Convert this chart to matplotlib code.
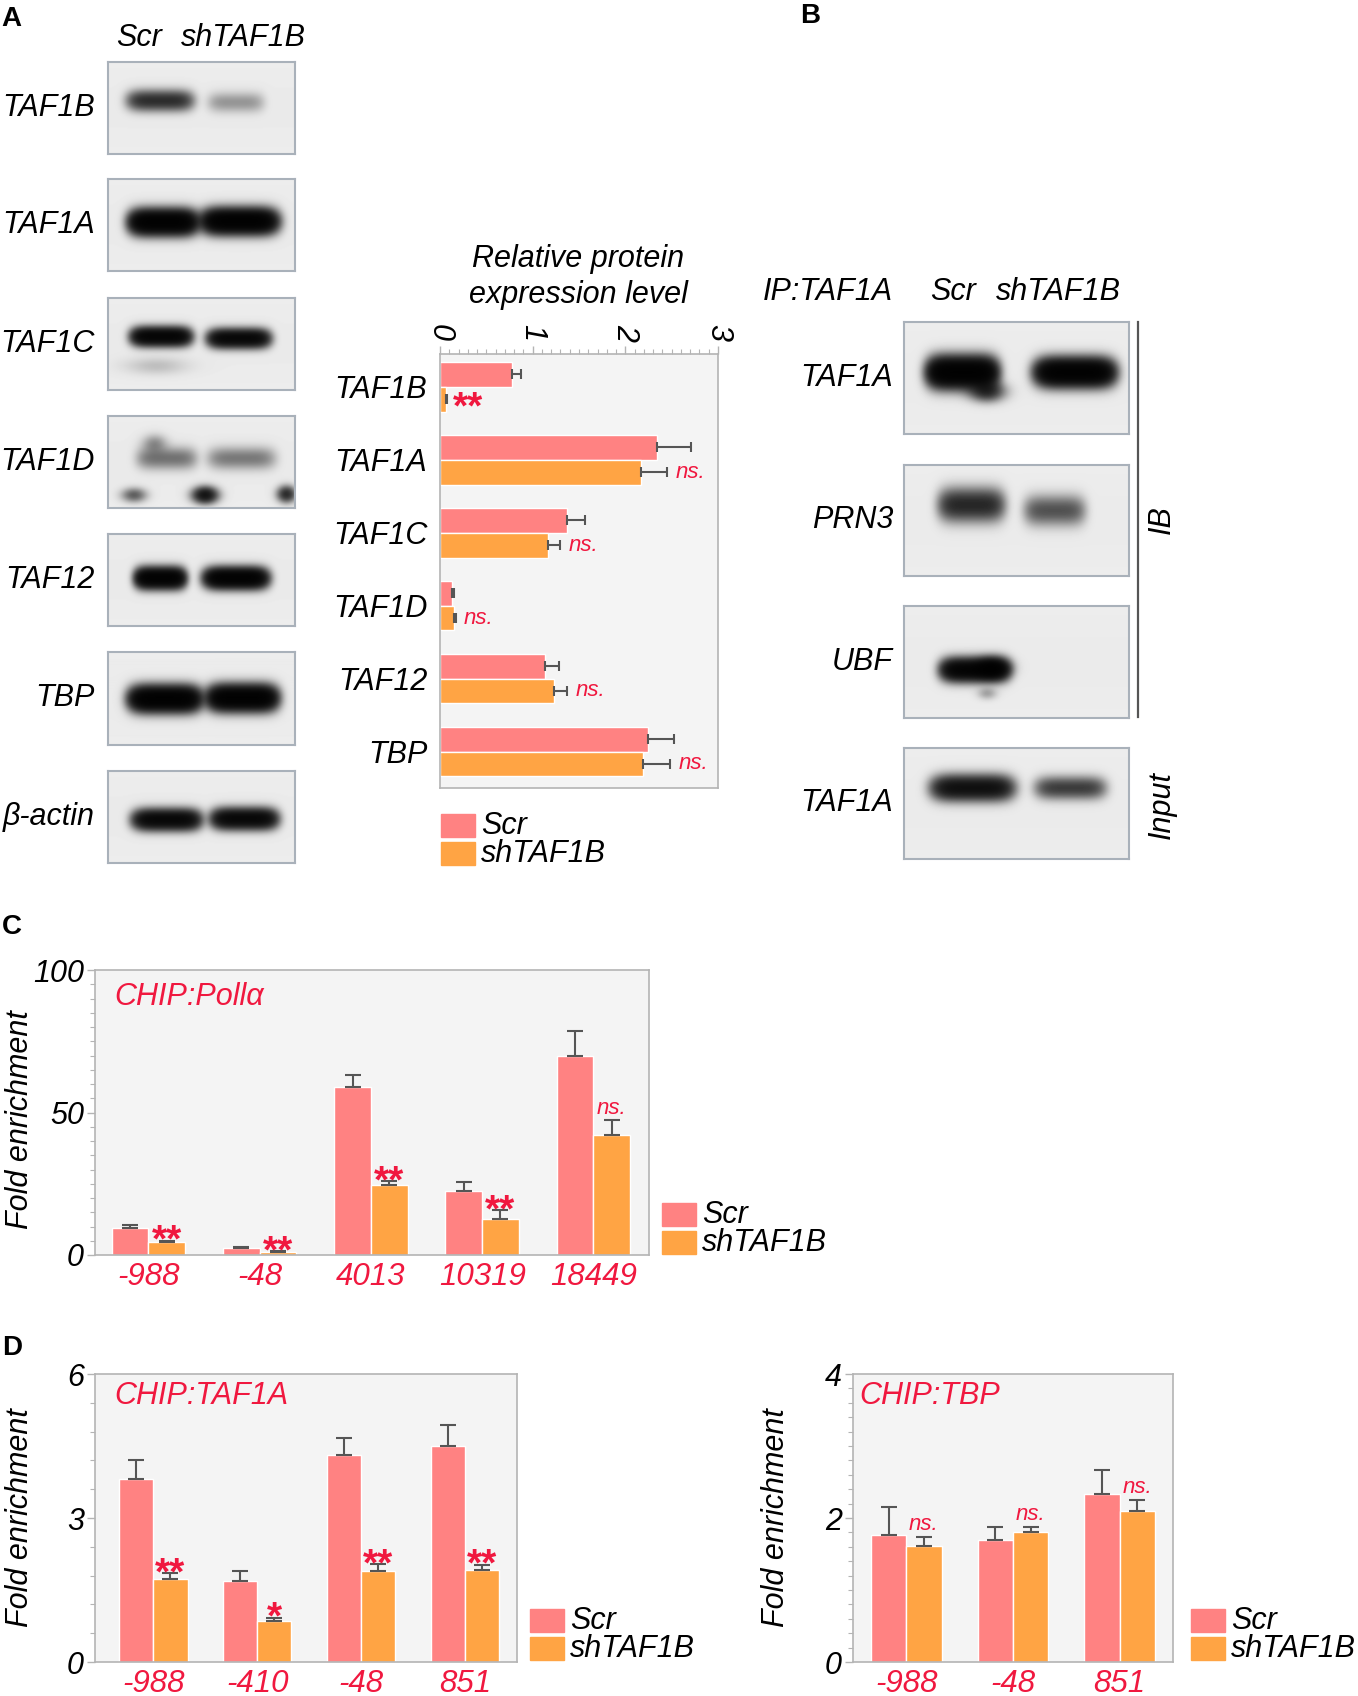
import numpy as np
import matplotlib
matplotlib.use('Agg')
import matplotlib.pyplot as plt
from matplotlib.patches import Rectangle
from matplotlib.lines import Line2D
from matplotlib.ticker import MultipleLocator

plt.rcParams['font.family'] = ['Liberation Sans', 'DejaVu Sans']

W, H = 1358, 1696
SERIES = ['Scr', 'shTAF1B']

# ---------------- data ----------------
# Panel A western blot (relative band strength per lane)
BLOT_A_PROTEINS = ['TAF1B', 'TAF1A', 'TAF1C', 'TAF1D', 'TAF12', 'TBP', 'β-actin']
BLOT_A_SCR = [0.55, 1.5, 1.2, 0.24, 1.4, 1.5, 1.1]
BLOT_A_SH = [0.15, 1.5, 1.1, 0.22, 1.4, 1.5, 1.1]

# Panel A quantification
QUANT_PROTEINS = ['TAF1B', 'TAF1A', 'TAF1C', 'TAF1D', 'TAF12', 'TBP']
QUANT_SCR = [0.78, 2.34, 1.37, 0.13, 1.13, 2.24]
QUANT_SCR_ERR = [0.09, 0.37, 0.20, 0.02, 0.15, 0.28]
QUANT_SH = [0.07, 2.17, 1.17, 0.155, 1.23, 2.19]
QUANT_SH_ERR = [0.01, 0.28, 0.13, 0.015, 0.14, 0.29]
QUANT_SIG = ['**', 'ns.', 'ns.', 'ns.', 'ns.', 'ns.']

# Panel B co-IP blot
BLOT_B_PROTEINS = ['TAF1A', 'PRN3', 'UBF', 'TAF1A']
BLOT_B_SCR = [1.6, 0.60, 1.3, 0.9]
BLOT_B_SH = [1.5, 0.35, 0.0, 0.45]

# Panel C  ChIP: Pol I alpha
C_SITES = ['-988', '-48', '4013', '10319', '18449']
C_SCR = [9.5, 2.5, 58.8, 22.5, 70.0]
C_SCR_ERR = [0.9, 0.3, 4.4, 3.2, 8.7]
C_SH = [4.7, 1.0, 24.5, 12.5, 42.0]
C_SH_ERR = [0.3, 0.3, 1.5, 3.2, 5.2]
C_SIG = ['**', '**', '**', '**', 'ns.']

# Panel D left  ChIP: TAF1A
DL_SITES = ['-988', '-410', '-48', '851']
DL_SCR = [3.81, 1.69, 4.31, 4.49]
DL_SCR_ERR = [0.39, 0.20, 0.35, 0.44]
DL_SH = [1.72, 0.85, 1.89, 1.92]
DL_SH_ERR = [0.13, 0.07, 0.15, 0.11]
DL_SIG = ['**', '*', '**', '**']

# Panel D right  ChIP: TBP
DR_SITES = ['-988', '-48', '851']
DR_SCR = [1.77, 1.69, 2.33]
DR_SCR_ERR = [0.38, 0.185, 0.34]
DR_SH = [1.61, 1.81, 2.10]
DR_SH_ERR = [0.13, 0.06, 0.15]
DR_SIG = ['ns.', 'ns.', 'ns.']

# ---------------- style ----------------
PINK = '#FF8282'
ORANGE = '#FFA444'
BG = '#F4F4F4'
SPINE = '#B4B4B4'
ECOL = '#555555'
RED = '#F0183F'
BLOT_EDGE = '#A9B1BA'
FS = 22

fig = plt.figure(figsize=(W / 100, H / 100), dpi=100)


def add_ax(x0, y0, x1, y1):
    return fig.add_axes([x0 / W, 1 - y1 / H, (x1 - x0) / W, (y1 - y0) / H])


def ftext(x, y, s, **kw):
    kw.setdefault('fontsize', FS)
    fig.text(x / W, 1 - y / H, s, **kw)


def draw_blot(box, bands):
    x0, y0, x1, y1 = box
    ax = add_ax(x0, y0, x1, y1)
    w = int(x1 - x0)
    h = int(y1 - y0)
    yy, xx = np.mgrid[0:h, 0:w]
    xx = (xx + 0.5) / w
    yy = (yy + 0.5) / h
    dens = np.zeros((h, w))
    for band in bands:
        bx0, bx1, yc, sy, inten = band[:5]
        pw = band[5] if len(band) > 5 else 5
        if inten <= 0:
            continue
        xc = (bx0 + bx1) / 2
        wx = (bx1 - bx0) / 2
        dens += inten * np.exp(-np.abs((xx - xc) / wx) ** pw) * np.exp(-((yy - yc) / sy) ** 2)
    bg = 0.935 - 0.015 * np.exp(-((yy - 0.5) / 0.6) ** 2)
    img = bg * np.exp(-3.0 * dens)
    ax.imshow(img, cmap='gray', vmin=0, vmax=1, aspect='auto',
              interpolation='bilinear', extent=(0, 1, 1, 0))
    ax.set_xticks([])
    ax.set_yticks([])
    for sp in ax.spines.values():
        sp.set_color(BLOT_EDGE)
        sp.set_linewidth(1.5)
    return ax


def legend_at(x, y_top):
    for i, (lab, col) in enumerate(zip(SERIES, [PINK, ORANGE])):
        ry = y_top + i * 28
        fig.patches.append(Rectangle((x / W, 1 - (ry + 23) / H), 34 / W, 23 / H,
                                     transform=fig.transFigure, color=col))
        ftext(x + 40, ry + 12, lab, style='italic', va='center', ha='left')


# ---------------- panel letters ----------------
for lt, (px, py) in zip('ABCD', [(1, 19), (800, 16), (2, 927), (2, 1348)]):
    ftext(px, py, lt, fontsize=20, fontweight='bold', ha='left', va='center')

# ---------------- Panel A blots ----------------
A_ROWS = [(62, 154), (179, 271), (298, 390), (416, 508), (534, 626), (652, 745), (771, 863)]
A_GEOM = [
    [(0.11, 0.45, 0.42, 0.10), (0.54, 0.83, 0.44, 0.10)],
    [(0.12, 0.47, 0.47, 0.12), (0.51, 0.90, 0.46, 0.12)],
    [(0.13, 0.44, 0.42, 0.09), (0.54, 0.86, 0.44, 0.09)],
    [(0.16, 0.47, 0.46, 0.11), (0.54, 0.89, 0.46, 0.11)],
    [(0.15, 0.41, 0.48, 0.10), (0.52, 0.85, 0.48, 0.10)],
    [(0.12, 0.49, 0.51, 0.12), (0.54, 0.90, 0.50, 0.12)],
    [(0.14, 0.49, 0.53, 0.10), (0.56, 0.90, 0.52, 0.10)],
]
A_EXTRA = {
    2: [(0.10, 0.42, 0.74, 0.09, 0.07, 2)],
    3: [(0.19, 0.31, 0.30, 0.09, 0.16, 2), (0.08, 0.20, 0.86, 0.07, 0.30, 2),
        (0.46, 0.58, 0.86, 0.08, 0.8, 2), (0.91, 1.0, 0.85, 0.08, 0.55, 2)],
}
for i, (name, (ry0, ry1)) in enumerate(zip(BLOT_A_PROTEINS, A_ROWS)):
    g = A_GEOM[i]
    bands = [g[0] + (BLOT_A_SCR[i],), g[1] + (BLOT_A_SH[i],)] + A_EXTRA.get(i, [])
    draw_blot((108, ry0, 295, ry1), bands)
    ftext(95, (ry0 + ry1) / 2, name, style='italic', ha='right', va='center')
ftext(139, 38, SERIES[0], style='italic', ha='center', va='center')
ftext(243, 38, SERIES[1], style='italic', ha='center', va='center')

# ---------------- Panel A quantification ----------------
axq = add_ax(440, 354, 718, 788)
axq.set_facecolor(BG)
yq = np.arange(len(QUANT_PROTEINS))
hb = 0.34
nq = len(yq)
axq.barh(yq - hb / 2, QUANT_SCR, hb, color=PINK, edgecolor='white', linewidth=1, zorder=2)
axq.barh(yq + hb / 2, QUANT_SH, hb, color=ORANGE, edgecolor='white', linewidth=1, zorder=2)
axq.errorbar(QUANT_SCR, yq - hb / 2, xerr=[np.zeros(nq), QUANT_SCR_ERR], fmt='none',
             ecolor=ECOL, elinewidth=1.5, capsize=3.5, capthick=1.5, zorder=3)
axq.errorbar(QUANT_SH, yq + hb / 2, xerr=[np.zeros(nq), QUANT_SH_ERR], fmt='none',
             ecolor=ECOL, elinewidth=1.5, capsize=3.5, capthick=1.5, zorder=3)
for yi, v, e, s in zip(yq + hb / 2, QUANT_SH, QUANT_SH_ERR, QUANT_SIG):
    if s.startswith('*'):
        axq.annotate(s, (v + e, yi), xytext=(4, -7), textcoords='offset points',
                     ha='left', va='center', color=RED, fontsize=28, fontweight='bold')
    else:
        axq.annotate(s, (v + e, yi), xytext=(6, 0), textcoords='offset points',
                     ha='left', va='center', color=RED, fontsize=16, style='italic')
axq.set_xlim(0, 3)
axq.set_ylim(len(yq) - 0.5, -0.45)
axq.xaxis.tick_top()
axq.set_xticks([0, 1, 2, 3])
axq.xaxis.set_minor_locator(MultipleLocator(0.1))
axq.tick_params(axis='x', which='major', length=6, width=1, color=SPINE, direction='out',
                labelsize=FS, pad=3, top=True, bottom=False, labeltop=True, labelbottom=False)
axq.tick_params(axis='x', which='minor', length=3.5, width=0.8, color=SPINE, direction='out',
                top=True, bottom=False)
for lab in axq.get_xticklabels():
    lab.set_rotation(-90)
    lab.set_style('italic')
axq.set_yticks(yq)
axq.set_yticklabels(QUANT_PROTEINS, style='italic', fontsize=FS)
axq.tick_params(axis='y', length=0, pad=9)
for sp in axq.spines.values():
    sp.set_color(SPINE)
    sp.set_linewidth(1.2)
ftext(578, 259, 'Relative protein', style='italic', ha='center', va='center')
ftext(578, 295, 'expression level', style='italic', ha='center', va='center')
legend_at(441, 814)

# ---------------- Panel B ----------------
B_ROWS = [(322, 434), (465, 576), (606, 718), (748, 859)]
B_GEOM = [
    [(0.11, 0.41, 0.45, 0.12), (0.59, 0.93, 0.45, 0.11)],
    [(0.16, 0.44, 0.36, 0.13), (0.54, 0.80, 0.41, 0.12)],
    [(0.17, 0.46, 0.57, 0.09), (0.60, 0.90, 0.55, 0.09)],
    [(0.13, 0.48, 0.36, 0.10), (0.59, 0.89, 0.36, 0.09)],
]
B_EXTRA = {0: [(0.30, 0.44, 0.62, 0.08, 0.5, 2)],
           2: [(0.33, 0.46, 0.55, 0.08, 0.5, 2), (0.33, 0.41, 0.78, 0.05, 0.12, 2)]}
for i, (name, (ry0, ry1)) in enumerate(zip(BLOT_B_PROTEINS, B_ROWS)):
    g = B_GEOM[i]
    bands = [g[0] + (BLOT_B_SCR[i],), g[1] + (BLOT_B_SH[i],)] + B_EXTRA.get(i, [])
    draw_blot((904, ry0, 1129, ry1), bands)
    ftext(893, (ry0 + ry1) / 2, name, style='italic', ha='right', va='center')
ftext(893, 292, 'IP:TAF1A', style='italic', ha='right', va='center')
ftext(953, 292, SERIES[0], style='italic', ha='center', va='center')
ftext(1058, 292, SERIES[1], style='italic', ha='center', va='center')
fig.add_artist(Line2D([1138 / W, 1138 / W], [1 - 322 / H, 1 - 717 / H],
                      transform=fig.transFigure, color='#555555', linewidth=1.6))
ftext(1162, 520, 'IB', style='italic', rotation=90, ha='center', va='center')
ftext(1162, 805, 'Input', style='italic', rotation=90, ha='center', va='center')


# ---------------- vertical bar charts ----------------
def vbar_chart(box, sites, scr, scr_err, sh, sh_err, sig, ymax, major, minor,
               title, xlim, title_x, title_y):
    ax = add_ax(*box)
    ax.set_facecolor(BG)
    x = np.arange(len(sites))
    w = 0.33
    n = len(sites)
    ax.bar(x - w / 2, scr, w, color=PINK, edgecolor='white', linewidth=1, zorder=2)
    ax.bar(x + w / 2, sh, w, color=ORANGE, edgecolor='white', linewidth=1, zorder=2)
    ax.errorbar(x - w / 2, scr, yerr=[np.zeros(n), scr_err], fmt='none', ecolor=ECOL,
                elinewidth=1.5, capsize=5.5, capthick=1.5, zorder=3)
    ax.errorbar(x + w / 2, sh, yerr=[np.zeros(n), sh_err], fmt='none', ecolor=ECOL,
                elinewidth=1.5, capsize=5.5, capthick=1.5, zorder=3)
    for xi, v, e, s in zip(x + w / 2, sh, sh_err, sig):
        if s.startswith('*'):
            ax.annotate(s, (xi, v + e), xytext=(0, -8), textcoords='offset points',
                        ha='center', va='baseline', color=RED, fontsize=28,
                        fontweight='bold')
        else:
            ax.annotate(s, (xi, v + e), xytext=(0, 5), textcoords='offset points',
                        ha='center', va='baseline', color=RED, fontsize=16,
                        style='italic')
    ax.set_xlim(*xlim)
    ax.set_ylim(0, ymax)
    ax.set_yticks(np.arange(0, ymax + 1e-9, major))
    ax.yaxis.set_minor_locator(MultipleLocator(minor))
    ax.tick_params(axis='y', which='major', length=6, width=1, color=SPINE,
                   direction='out', pad=2, labelsize=FS)
    ax.tick_params(axis='y', which='minor', length=3.5, width=0.8, color=SPINE,
                   direction='out')
    for lab in ax.get_yticklabels():
        lab.set_style('italic')
    ax.set_xticks(x)
    ax.set_xticklabels(sites)
    ax.tick_params(axis='x', length=0, pad=5)
    for lab in ax.get_xticklabels():
        lab.set_color(RED)
        lab.set_style('italic')
        lab.set_fontsize(22.5)
    for sp in ax.spines.values():
        sp.set_color(SPINE)
        sp.set_linewidth(1.2)
    ax.text(title_x, title_y, title, transform=ax.transAxes, color=RED, fontsize=FS,
            style='italic', ha='left', va='center')
    return ax


vbar_chart((95, 970, 649, 1255), C_SITES, C_SCR, C_SCR_ERR, C_SH, C_SH_ERR, C_SIG,
           100, 50, 5, 'CHIP:Pollα', (-0.48, 4.5), 0.035, 0.905)
ftext(20, 1120, 'Fold enrichment', style='italic', rotation=90, ha='center', va='center')
legend_at(662, 1203)

vbar_chart((95, 1374, 517, 1662), DL_SITES, DL_SCR, DL_SCR_ERR, DL_SH, DL_SH_ERR, DL_SIG,
           6, 3, 0.6, 'CHIP:TAF1A', (-0.56, 3.5), 0.045, 0.925)
ftext(20, 1518, 'Fold enrichment', style='italic', rotation=90, ha='center', va='center')
legend_at(530, 1609)

vbar_chart((853, 1374, 1173, 1662), DR_SITES, DR_SCR, DR_SCR_ERR, DR_SH, DR_SH_ERR, DR_SIG,
           4, 2, 0.2, 'CHIP:TBP', (-0.5, 2.5), 0.02, 0.925)
ftext(776, 1518, 'Fold enrichment', style='italic', rotation=90, ha='center', va='center')
legend_at(1191, 1609)

fig.savefig('out.png', dpi=100)
